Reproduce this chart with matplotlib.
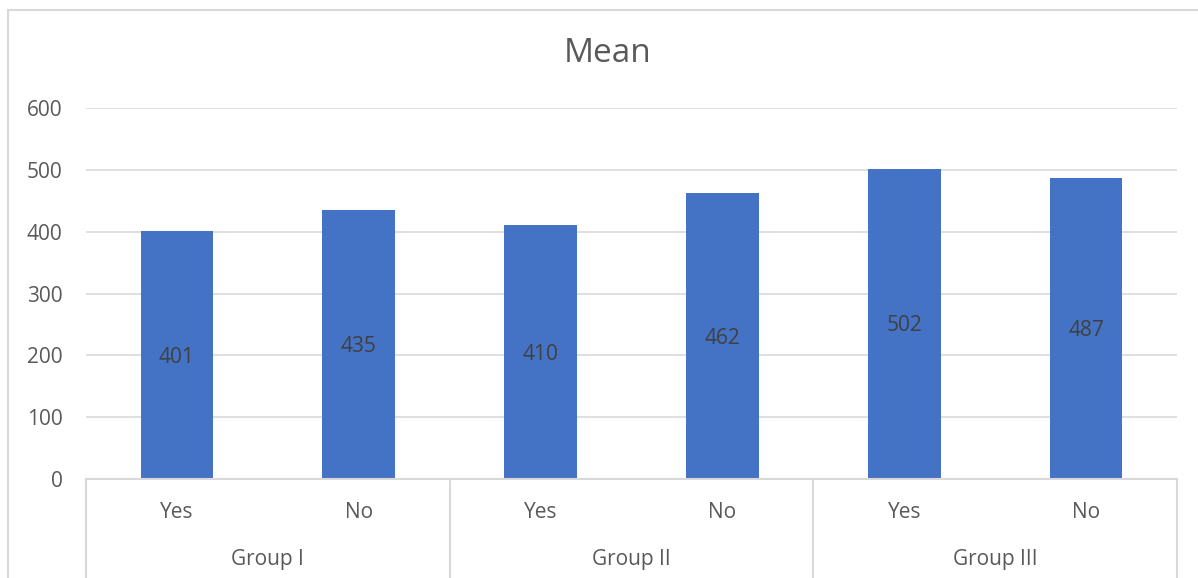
import matplotlib
matplotlib.use("Agg")
import matplotlib.pyplot as plt
from matplotlib.patches import Rectangle
from matplotlib.lines import Line2D
from matplotlib.transforms import offset_copy

title = "Mean"
groups = ["Group I", "Group II", "Group III"]
subcats = ["Yes", "No"]
values = [401, 435, 410, 462, 502, 487]
yticks = [0, 100, 200, 300, 400, 500, 600]

plt.rcParams['font.family'] = ['Open Sans', 'DejaVu Sans']
W, H = 1198, 578
fig = plt.figure(figsize=(W / 100, H / 100), dpi=100)

# chart border
fig.patches.append(Rectangle((8 / W, -0.1), 1.2, 1 - 10 / H + 0.1, transform=fig.transFigure,
                             fill=False, edgecolor='#D9D9D9', linewidth=1.5))

left, right, top, bottom = 86, 1177, 108, 479
ax = fig.add_axes([left / W, 1 - bottom / H, (right - left) / W, (bottom - top) / H])

n = len(values)
x = list(range(n))
ax.bar(x, values, width=0.4, color='#4472C4', zorder=3)
lab_tr = offset_copy(ax.transData, fig=fig, x=0, y=-1.5, units='points')
for xi, v in zip(x, values):
    ax.text(xi, v / 2, str(v), ha='center', va='center', fontsize=15, color='#404040', zorder=4,
            transform=lab_tr)

ax.set_xlim(-0.5, n - 0.5)
ax.set_ylim(0, 600)
ax.set_yticks(yticks)
ax.set_yticklabels([str(t) for t in yticks])
ax.tick_params(axis='y', length=0, pad=17, labelsize=15, labelcolor='#595959')
ax.set_xticks([])
ax.grid(axis='y', color='#D9D9D9', linewidth=1.2, zorder=0)
for s in ax.spines.values():
    s.set_visible(False)

tr = ax.get_xaxis_transform()
axh = bottom - top
# category axis line
ax.add_line(Line2D([-0.5, n - 0.5], [0, 0], transform=tr, color='#D9D9D9', linewidth=1.5,
                   clip_on=False, zorder=5))
# separators
per = len(subcats)
for k in range(len(groups) + 1):
    xs = -0.5 + k * per
    ax.add_line(Line2D([xs, xs], [0, -0.35], transform=tr, color='#D9D9D9', linewidth=1.5,
                       clip_on=False))
# labels
for i in range(n):
    ax.text(i, -(512 - bottom) / axh, subcats[i % per], transform=tr, ha='center', va='center',
            fontsize=15, color='#595959')
for g, name in enumerate(groups):
    ax.text(g * per + (per - 1) / 2, -(559 - bottom) / axh, name, transform=tr, ha='center',
            va='center', fontsize=15, color='#595959')

fig.text(608 / W, 1 - 54 / H, title, ha='center', va='center', fontsize=24,
         color='#595959')

fig.savefig("out.png", dpi=100)
